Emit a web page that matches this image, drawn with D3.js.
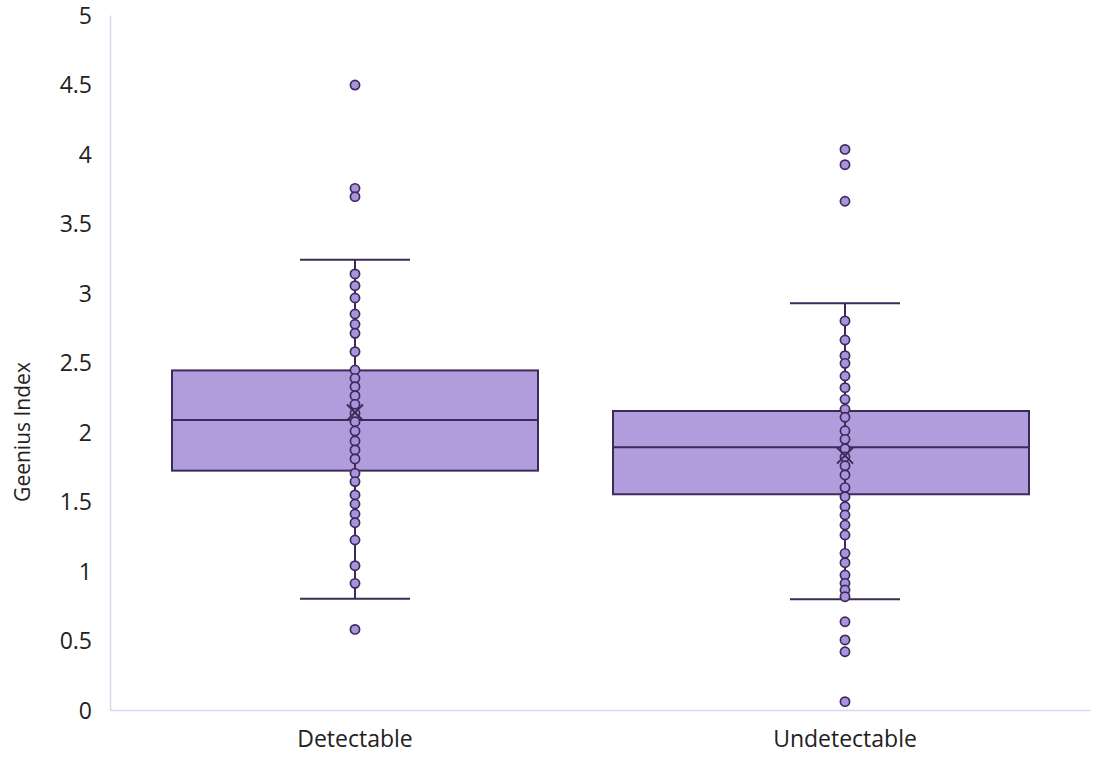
<!DOCTYPE html>
<html>
<head>
<meta charset="utf-8">
<script src="https://cdn.jsdelivr.net/npm/d3@7"></script>
<style>
  html, body { margin: 0; padding: 0; background: #ffffff; }
  svg { display: block; }
  text { font-family: "Open Sans", sans-serif; fill: #222; }
</style>
</head>
<body>
<svg id="chart" width="1095" height="758"></svg>
<script>
// ---- data ----
const categories = ["Detectable", "Undetectable"];
const q1Values = [1.722, 1.552];
const medianValues = [2.086, 1.890];
const q3Values = [2.443, 2.151];
const whiskerLowValues = [0.800, 0.796];
const whiskerHighValues = [3.240, 2.926];
const meanValues = [2.140, 1.830];
const detectablePoints = [4.496, 3.753, 3.693, 3.137, 3.053, 2.964, 2.849, 2.775, 2.710, 2.578,
  2.446, 2.386, 2.326, 2.261, 2.199, 2.134, 2.074, 2.007, 1.935, 1.871, 1.806, 1.703, 1.643,
  1.547, 1.482, 1.410, 1.348, 1.223, 1.038, 0.911, 0.580];
const undetectablePoints = [4.033, 3.923, 3.660, 2.799, 2.662, 2.549, 2.494, 2.403, 2.319, 2.235,
  2.163, 2.106, 2.009, 1.947, 1.880, 1.820, 1.757, 1.691, 1.600, 1.535, 1.463, 1.403, 1.331,
  1.259, 1.127, 1.060, 0.971, 0.911, 0.863, 0.815, 0.635, 0.504, 0.419, 0.060];
const pointSets = [detectablePoints, undetectablePoints];
const yTicks = [0, 0.5, 1, 1.5, 2, 2.5, 3, 3.5, 4, 4.5, 5];
const yLabel = "Geenius Index";

// ---- layout ----
const plot = { left: 110, right: 1090, top: 15, bottom: 710 };
const boxLeft = [183, 232];   // box extent left of category center
const boxRight = [183, 184];  // box extent right of category center
const capHalf = 55;
const fill = "#b19cdc";
const dark = "#3b2a5a";
const pointFill = "#a993dc";
const axisColor = "#dcd6ef";

const svg = d3.select("#chart");
const x = d3.scaleBand().domain(categories).range([plot.left, plot.right]);
const y = d3.scaleLinear().domain([0, 5]).range([plot.bottom, plot.top]);
const cx = c => x(c) + x.bandwidth() / 2;

// axes
const yAxis = d3.axisLeft(y).tickValues(yTicks).tickSize(0).tickPadding(18)
  .tickFormat(d => d3.format("~g")(d));
const gy = svg.append("g").attr("transform", `translate(${plot.left},0)`).call(yAxis);
gy.select(".domain").attr("stroke", axisColor).attr("stroke-width", 1.5);
gy.selectAll(".tick text").style("font-size", "23px").attr("fill", "#222")
  .attr("font-family", "Open Sans, sans-serif").attr("dy", "0.36em");

const xAxis = d3.axisBottom(x).tickSize(0).tickPadding(21);
const gx = svg.append("g").attr("transform", `translate(0,${plot.bottom})`).call(xAxis);
gx.select(".domain").attr("stroke", axisColor).attr("stroke-width", 1.5);
gx.selectAll(".tick text").style("font-size", "23px").attr("fill", "#222")
  .attr("font-family", "Open Sans, sans-serif");

svg.append("text")
  .attr("transform", `translate(24,${y(2)}) rotate(-90)`)
  .attr("text-anchor", "middle").attr("dominant-baseline", "middle")
  .style("font-size", "21px").text(yLabel);

const g = svg.append("g");
categories.forEach((c, i) => {
  const xc = cx(c);
  // whiskers
  g.append("line").attr("x1", xc).attr("x2", xc)
    .attr("y1", y(q3Values[i])).attr("y2", y(whiskerHighValues[i]))
    .attr("stroke", dark).attr("stroke-width", 2);
  g.append("line").attr("x1", xc).attr("x2", xc)
    .attr("y1", y(q1Values[i])).attr("y2", y(whiskerLowValues[i]))
    .attr("stroke", dark).attr("stroke-width", 2);
  [whiskerHighValues[i], whiskerLowValues[i]].forEach(v => {
    g.append("line").attr("x1", xc - capHalf).attr("x2", xc + capHalf)
      .attr("y1", y(v)).attr("y2", y(v)).attr("stroke", dark).attr("stroke-width", 2);
  });
  // box
  g.append("rect").attr("x", xc - boxLeft[i]).attr("width", boxLeft[i] + boxRight[i])
    .attr("y", y(q3Values[i])).attr("height", y(q1Values[i]) - y(q3Values[i]))
    .attr("fill", fill).attr("stroke", dark).attr("stroke-width", 2);
  // vertical line through box
  g.append("line").attr("x1", xc).attr("x2", xc)
    .attr("y1", y(q3Values[i])).attr("y2", y(q1Values[i]))
    .attr("stroke", dark).attr("stroke-width", 2);
  // median
  g.append("line").attr("x1", xc - boxLeft[i]).attr("x2", xc + boxRight[i])
    .attr("y1", y(medianValues[i])).attr("y2", y(medianValues[i]))
    .attr("stroke", dark).attr("stroke-width", 2);
  // points
  g.selectAll(null).data(pointSets[i]).enter().append("circle")
    .attr("cx", xc).attr("cy", d => y(d)).attr("r", 4.6)
    .attr("fill", pointFill).attr("stroke", dark).attr("stroke-width", 1.7);
  // mean marker
  const my = y(meanValues[i]), s = 8;
  g.append("path").attr("d", `M${xc - s},${my - s}L${xc + s},${my + s}M${xc - s},${my + s}L${xc + s},${my - s}`)
    .attr("stroke", dark).attr("stroke-width", 2).attr("fill", "none");
});
</script>
</body>
</html>
